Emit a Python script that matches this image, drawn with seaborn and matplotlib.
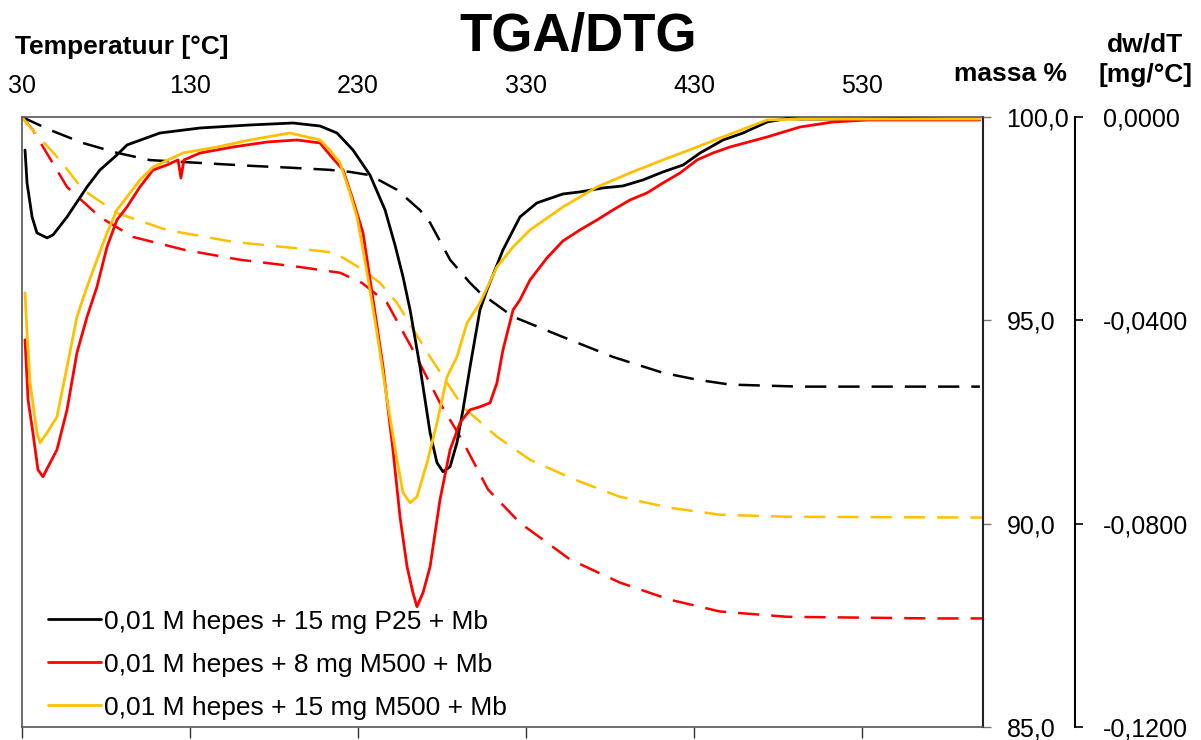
import numpy as np
import pandas as pd
import matplotlib
matplotlib.use("Agg")
import matplotlib.pyplot as plt
import seaborn as sns
from matplotlib.lines import Line2D
from matplotlib.ticker import FixedLocator, FixedFormatter

# ---------------- data ----------------
series = ["0,01 M hepes + 15 mg P25 + Mb",
          "0,01 M hepes + 8 mg M500 + Mb",
          "0,01 M hepes + 15 mg M500 + Mb"]
colors = ["#000000", "#FF0000", "#FFC000"]

x_ticks = [30, 130, 230, 330, 430, 530]
mass_ticks = [100.0, 95.0, 90.0, 85.0]
mass_labels = ["100,0", "95,0", "90,0", "85,0"]
dtg_ticks = [0.0, -0.04, -0.08, -0.12]
dtg_labels = ["0,0000", "-0,0400", "-0,0800", "-0,1200"]

# DTG (dw/dT, mg/°C) curves
p25_dtg_T = [31.8, 33.0, 36.0, 38.9, 44.9, 48.5, 56.8, 68.7, 76.4, 86.5, 92.5, 112.1,
             136.0, 165.7, 191.3, 207.4, 217.5, 227.0, 237.1, 246.1, 252.0, 256.8, 261.0,
             266.9, 272.9, 277.0, 280.6, 284.8, 288.9, 292.5, 296.7, 302.6, 306.8, 316.3,
             326.4, 336.5, 352.0, 362.1, 375.8, 387.7, 399.6, 411.5, 423.5, 433.6, 447.3,
             459.2, 473.5, 485.4, 493.1, 522.9, 552.6, 582.4, 600.2]
p25_dtg = [-0.00649, -0.01297, -0.01966, -0.02280, -0.02378, -0.02319, -0.01966, -0.01376,
           -0.01042, -0.00747, -0.00550, -0.00315, -0.00216, -0.00157, -0.00118, -0.00177,
           -0.00315, -0.00649, -0.01140, -0.01828, -0.02516, -0.03145, -0.03794, -0.04914,
           -0.06211, -0.06801, -0.06978, -0.06880, -0.06408, -0.05759, -0.04914, -0.03794,
           -0.03401, -0.02614, -0.01966, -0.01690, -0.01514, -0.01474, -0.01396, -0.01356,
           -0.01238, -0.01081, -0.00944, -0.00708, -0.00452, -0.00315, -0.00098, -0.00030,
           -0.00040, -0.00040, -0.00030, -0.00040, -0.00040]

m8_dtg_T = [31.8, 33.6, 36.5, 39.5, 42.5, 45.5, 50.8, 56.8, 62.7, 68.7, 74.6, 80.6, 86.5,
            92.5, 100.2, 108.0, 116.3, 122.9, 124.6, 126.4, 136.0, 155.6, 175.8, 193.7,
            207.4, 213.3, 221.1, 227.0, 233.0, 239.0, 244.9, 250.8, 255.0, 259.2, 262.7,
            265.1, 268.7, 272.9, 278.8, 284.8, 290.7, 296.7, 302.6, 308.6, 312.7, 316.3,
            322.3, 326.4, 332.4, 342.5, 352.0, 362.1, 372.3, 381.8, 391.9, 402.0, 411.5,
            421.7, 431.8, 441.3, 451.4, 473.5, 493.1, 512.7, 533.0, 552.6, 576.4, 600.2]
m8_dtg = [-0.04384, -0.05564, -0.06212, -0.06940, -0.07077, -0.06881, -0.06547, -0.05760,
          -0.04640, -0.03932, -0.03342, -0.02556, -0.02025, -0.01769, -0.01376, -0.01042,
          -0.00944, -0.00845, -0.01199, -0.00845, -0.00708, -0.00590, -0.00492, -0.00452,
          -0.00511, -0.00747, -0.01042, -0.01632, -0.02281, -0.03598, -0.04915, -0.06547,
          -0.07864, -0.08847, -0.09358, -0.09633, -0.09358, -0.08847, -0.07530, -0.06547,
          -0.06016, -0.05760, -0.05701, -0.05623, -0.05230, -0.04581, -0.03795, -0.03598,
          -0.03205, -0.02772, -0.02438, -0.02222, -0.02025, -0.01828, -0.01632, -0.01494,
          -0.01298, -0.01101, -0.00845, -0.00708, -0.00590, -0.00393, -0.00197, -0.00098,
          -0.00059, -0.00059, -0.00059, -0.00059]

m15_dtg_T = [31.8, 33.0, 34.8, 38.9, 40.7, 44.9, 50.8, 56.8, 62.7, 68.7, 74.6, 80.6, 86.5,
             92.5, 100.2, 108.0, 125.8, 146.1, 165.7, 189.5, 207.4, 213.3, 219.3, 225.2,
             229.4, 233.0, 237.1, 241.3, 247.3, 253.2, 256.8, 261.0, 265.1, 271.1, 277.0,
             283.0, 288.9, 294.9, 302.6, 312.7, 322.3, 332.4, 352.0, 372.3, 391.9, 411.5,
             431.8, 453.2, 473.5, 493.1, 522.9, 552.6, 582.4, 600.2]
m15_dtg = [-0.03460, -0.04247, -0.05230, -0.06212, -0.06409, -0.06212, -0.05898, -0.04915,
           -0.03932, -0.03342, -0.02811, -0.02281, -0.01828, -0.01573, -0.01239, -0.00983,
           -0.00708, -0.00590, -0.00452, -0.00315, -0.00452, -0.00649, -0.00904, -0.01494,
           -0.01966, -0.02615, -0.03401, -0.04247, -0.05564, -0.06743, -0.07392, -0.07589,
           -0.07471, -0.06802, -0.06016, -0.05112, -0.04718, -0.04050, -0.03657, -0.02949,
           -0.02556, -0.02222, -0.01769, -0.01376, -0.01101, -0.00845, -0.00590, -0.00315,
           -0.00059, -0.00040, -0.00040, -0.00040, -0.00040, -0.00040]

# TGA (mass %) curves
p25_mass_T = [30.0, 46.7, 66.3, 86.5, 106.2, 136.0, 165.7, 191.3, 213.3, 225.2, 237.1, 253.2,
              266.9, 272.9, 284.8, 296.7, 302.6, 322.3, 352.0, 381.8, 411.5, 431.8, 451.4,
              493.1, 600.2]
p25_mass = [100.0, 99.68, 99.36, 99.12, 98.94, 98.87, 98.80, 98.75, 98.70, 98.65, 98.57,
            98.21, 97.71, 97.40, 96.49, 95.92, 95.68, 95.09, 94.59, 94.10, 93.71, 93.54,
            93.42, 93.37, 93.37]

m8_mass_T = [30.0, 36.5, 56.8, 76.4, 96.1, 127.0, 159.8, 195.5, 219.3, 232.4, 247.3, 262.7,
             278.8, 291.9, 307.4, 326.4, 356.2, 386.0, 415.7, 445.5, 485.4, 570.5, 602.0]
m8_mass = [100.0, 99.68, 98.28, 97.54, 97.05, 96.73, 96.49, 96.31, 96.17, 95.92, 95.43,
           94.27, 92.97, 92.06, 90.84, 90.02, 89.12, 88.55, 88.13, 87.84, 87.71, 87.67, 87.67]

m15_mass_T = [30.0, 34.8, 52.6, 66.3, 86.5, 116.3, 155.6, 191.3, 216.3, 233.0, 243.1, 253.2,
              272.9, 292.5, 312.7, 332.4, 359.2, 386.0, 415.7, 445.5, 485.4, 602.0]
m15_mass = [100.0, 99.75, 98.94, 98.21, 97.64, 97.22, 96.93, 96.78, 96.66, 96.24, 95.92,
            95.43, 94.10, 92.87, 92.14, 91.57, 91.08, 90.66, 90.39, 90.22, 90.17, 90.15]

# ---------------- styling ----------------
sns.set_style("white")
plt.rcParams["font.family"] = ["Liberation Sans", "DejaVu Sans"]
plt.rcParams["text.color"] = "black"
plt.rcParams["xtick.color"] = "black"
plt.rcParams["ytick.color"] = "black"
plt.rcParams["xtick.labelcolor"] = "black"
plt.rcParams["ytick.labelcolor"] = "black"

W, H = 1201, 740
fig = plt.figure(figsize=(W / 100, H / 100), dpi=100)
ax_l, ax_r, ax_t, ax_b = 22, 983, 117, 727
ax = fig.add_axes([ax_l / W, 1 - ax_b / H, (ax_r - ax_l) / W, (ax_b - ax_t) / H])
ax2 = ax.twinx()

dash = (0, (8.5, 4.8))
mass_sets = [(p25_mass_T, p25_mass), (m8_mass_T, m8_mass), (m15_mass_T, m15_mass)]
dtg_sets = [(p25_dtg_T, p25_dtg), (m8_dtg_T, m8_dtg), (m15_dtg_T, m15_dtg)]

for (t, m), c in zip(mass_sets, colors):
    df = pd.DataFrame({"T": t, "v": m})
    sns.lineplot(data=df, x="T", y="v", ax=ax, color=c, lw=1.8, linestyle=dash,
                 sort=False, estimator=None, legend=False)

for (t, d), c in zip(dtg_sets, colors):
    df = pd.DataFrame({"T": t, "v": d})
    sns.lineplot(data=df, x="T", y="v", ax=ax2, color=c, lw=2.0,
                 sort=False, estimator=None, legend=False)

x_max = 30 + (ax_r - ax_l) / 1.68
ax.set_xlim(30, x_max)
ax.set_ylim(85, 100)
ax2.set_ylim(-0.12, 0)

for a in (ax, ax2):
    a.set_xlabel("")
    a.set_ylabel("")
    a.grid(False)

# x axis: labels on top, tick marks at bottom
ax.xaxis.set_major_locator(FixedLocator(x_ticks))
ax.xaxis.set_major_formatter(FixedFormatter([str(v) for v in x_ticks]))
ax.tick_params(axis="x", bottom=True, top=False, labelbottom=False, labeltop=True,
               direction="out", length=8, width=1, color="#333333", labelsize=18,
               labelcolor="black", pad=5.5)

# mass axis on the right spine of the plot box
ax.yaxis.tick_right()
ax.yaxis.set_major_locator(FixedLocator(mass_ticks))
ax.yaxis.set_major_formatter(FixedFormatter(mass_labels))
ax.tick_params(axis="y", left=False, right=True, labelleft=False, labelright=True,
               direction="out", length=6, width=1, color="#777777", labelsize=18,
               labelcolor="black", pad=11)

# dtg axis offset to the right
ax2.spines["right"].set_position(("axes", (1075 - ax_l) / (ax_r - ax_l)))
ax2.yaxis.set_major_locator(FixedLocator(dtg_ticks))
ax2.yaxis.set_major_formatter(FixedFormatter(dtg_labels))
ax2.tick_params(axis="y", right=True, labelright=True, direction="out", length=6,
                width=1.2, color="#000000", labelsize=18, labelcolor="black", pad=14)

for s in ["left", "top", "bottom"]:
    ax.spines[s].set_color("#555555")
    ax.spines[s].set_linewidth(1.2)
ax.spines["right"].set_color("#222222")
ax.spines["right"].set_linewidth(1.5)
for s in ["left", "top", "bottom"]:
    ax2.spines[s].set_visible(False)
ax2.spines["right"].set_color("#000000")
ax2.spines["right"].set_linewidth(1.5)

# legend (solid DTG lines)
handles = [Line2D([0], [0], color=c, lw=2.0) for c in colors]
leg = ax2.legend(handles, series, loc="lower left", frameon=False, fontsize=19,
                 handlelength=2.0, handletextpad=0.12, labelspacing=0.72, borderpad=0,
                 borderaxespad=0, bbox_to_anchor=(0.027, 0.012))
for txt in leg.get_texts():
    txt.set_color("black")

# texts
fig.text(578 / W, 1 - 37 / H, "TGA/DTG", ha="center", va="center", fontsize=38,
         fontweight="bold", color="black")
fig.text(15 / W, 1 - 47 / H, "Temperatuur [°C]", ha="left", va="center", fontsize=19,
         fontweight="bold", color="black")
fig.text(1010 / W, 1 - 74 / H, "massa %", ha="center", va="center", fontsize=19,
         fontweight="bold", color="black")
fig.text(1145 / W, 1 - 44 / H, "dw/dT", ha="center", va="center", fontsize=19,
         fontweight="bold", color="black")
fig.text(1145 / W, 1 - 75 / H, "[mg/°C]", ha="center", va="center", fontsize=19,
         fontweight="bold", color="black")

fig.savefig("out.png", dpi=100)
